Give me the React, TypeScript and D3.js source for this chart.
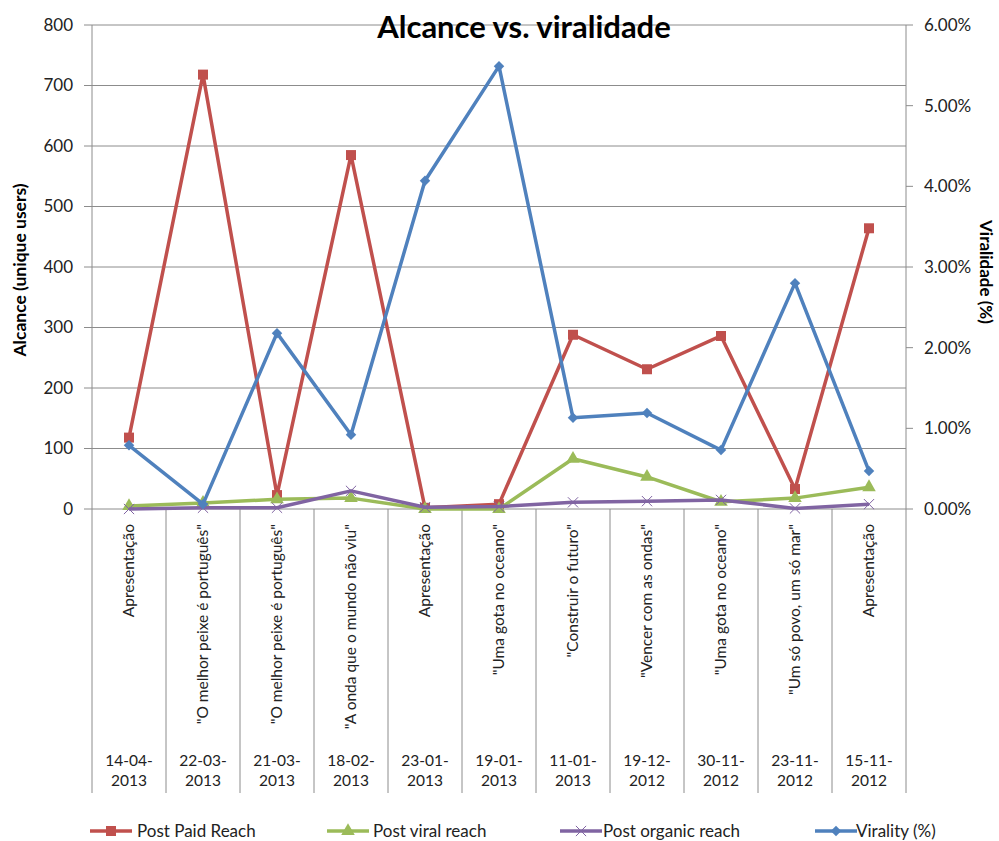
import React from 'react';
import * as d3 from 'd3';

// categories: post title + publication date
const posts = [
  'Apresentação',
  '"O melhor peixe é português"',
  '"O melhor peixe é português"',
  '"A onda que o mundo não viu"',
  'Apresentação',
  '"Uma gota no oceano"',
  '"Construir o futuro"',
  '"Vencer com as ondas"',
  '"Uma gota no oceano"',
  '"Um só povo, um só mar"',
  'Apresentação',
];
const dates = [
  '14-04-2013', '22-03-2013', '21-03-2013', '18-02-2013', '23-01-2013', '19-01-2013',
  '11-01-2013', '19-12-2012', '30-11-2012', '23-11-2012', '15-11-2012',
];

// series (left axis, unique users)
const paidReach = [118, 718, 23, 585, 2, 8, 288, 231, 286, 33, 464];
const viralReach = [5, 10, 16, 18, 0, 0, 83, 53, 12, 18, 36];
const organicReach = [0, 2, 2, 30, 3, 4, 11, 13, 15, 1, 8];
// right axis, percent
const virality = [0.79, 0.06, 2.18, 0.92, 4.07, 5.49, 1.13, 1.19, 0.73, 2.8, 0.47];

const leftTicks = [0, 100, 200, 300, 400, 500, 600, 700, 800];
const rightTicks = [0, 1, 2, 3, 4, 5, 6];

const font = 'Lato, "Open Sans", sans-serif';
const grid = '#8c8c8c';

export default function App() {
  const width = 999;
  const height = 841;
  const plot = { left: 92, right: 906, top: 25, bottom: 509 };

  const x = d3.scaleBand<number>()
    .domain(d3.range(posts.length))
    .range([plot.left, plot.right]);
  const cx = (i: number) => (x(i) as number) + x.bandwidth() / 2;

  const yLeft = d3.scaleLinear().domain([0, 800]).range([plot.bottom, plot.top]);
  const yRight = d3.scaleLinear().domain([0, 6]).range([plot.bottom, plot.top]);

  const series = [
    { name: 'Post Paid Reach', values: paidReach, y: yLeft, color: '#C0504D', symbol: d3.symbolSquare, size: 100, stroke: false },
    { name: 'Post viral reach', values: viralReach, y: yLeft, color: '#9BBB59', symbol: d3.symbolTriangle, size: 80, stroke: false },
    { name: 'Post organic reach', values: organicReach, y: yLeft, color: '#8064A2', symbol: d3.symbolX, size: 70, stroke: true },
    { name: 'Virality (%)', values: virality, y: yRight, color: '#4F81BD', symbol: d3.symbolDiamond2, size: 70, stroke: false },
  ];

  // legend: line start and text start per entry
  const legendPos = [[90, 137], [327, 373], [560, 603], [815, 856]];

  return (
    <svg width={width} height={height} style={{ position: 'absolute', left: 0, top: 0, background: '#fff' }} fontFamily={font}>
      {/* horizontal gridlines */}
      {leftTicks.map(t => (
        <g key={'g' + t}>
          <line x1={84} x2={plot.right} y1={yLeft(t)} y2={yLeft(t)} stroke={grid} strokeWidth={1} />
          <text x={73} y={yLeft(t)} dy="0.35em" textAnchor="end" fontSize={17} fill="#222">{t}</text>
        </g>
      ))}
      {rightTicks.map(t => (
        <g key={'r' + t}>
          <line x1={plot.right} x2={plot.right + 7} y1={yRight(t)} y2={yRight(t)} stroke={grid} />
          <text x={924} y={yRight(t)} dy="0.35em" fontSize={17} fill="#222">{d3.format('.2f')(t) + '%'}</text>
        </g>
      ))}
      {/* vertical axis lines and category separators */}
      {d3.range(posts.length + 1).map(i => {
        const xx = i < posts.length ? (x(i) as number) : plot.right;
        const top = i === 0 || i === posts.length ? plot.top : plot.bottom;
        return <line key={'v' + i} x1={xx} x2={xx} y1={top} y2={793} stroke={grid} strokeWidth={1} />;
      })}
      {/* category labels */}
      {posts.map((p, i) => (
        <text key={'p' + i} transform={`translate(${cx(i) + 5},524) rotate(-90)`} textAnchor="end" fontSize={15.5} fill="#222">{p}</text>
      ))}
      {dates.map((d, i) => (
        <text key={'d' + i} x={cx(i)} y={766} textAnchor="middle" fontSize={15.5} fill="#222">
          <tspan x={cx(i)}>{d.slice(0, 6)}</tspan>
          <tspan x={cx(i)} dy={20}>{d.slice(6)}</tspan>
        </text>
      ))}
      {/* series */}
      {series.map(s => {
        const line = d3.line<number>().x((_, i) => cx(i)).y(v => s.y(v));
        const sym = d3.symbol().type(s.symbol).size(s.size)();
        return (
          <g key={s.name}>
            <path d={line(s.values) ?? ''} fill="none" stroke={s.color} strokeWidth={3.5} strokeLinejoin="round" />
            {s.values.map((v, i) => (
              <path key={i} d={sym ?? ''} transform={`translate(${cx(i)},${s.y(v)})`}
                fill={s.stroke ? 'none' : s.color} stroke={s.stroke ? s.color : 'none'} strokeWidth={1} />
            ))}
          </g>
        );
      })}
      {/* titles */}
      <text x={524} y={38} textAnchor="middle" fontSize={31} fontWeight="bold" fill="#000">Alcance vs. viralidade</text>
      <text transform="translate(26,270) rotate(-90)" textAnchor="middle" fontSize={17.5} fontWeight="bold" fill="#000">Alcance (unique users)</text>
      <text transform="translate(980,272) rotate(90)" textAnchor="middle" fontSize={17} fontWeight="bold" fill="#000">Viralidade (%)</text>
      {/* legend */}
      {series.map((s, k) => {
        const sym = d3.symbol().type(s.symbol).size(s.size)();
        const [lx, tx] = legendPos[k];
        return (
          <g key={'l' + s.name}>
            <line x1={lx} x2={lx + 42} y1={831} y2={831} stroke={s.color} strokeWidth={3.5} />
            <path d={sym ?? ''} transform={`translate(${lx + 21},831)`}
              fill={s.stroke ? 'none' : s.color} stroke={s.stroke ? s.color : 'none'} />
            <text x={tx} y={831} dy="0.35em" fontSize={17} fill="#222">{s.name}</text>
          </g>
        );
      })}
    </svg>
  );
}
